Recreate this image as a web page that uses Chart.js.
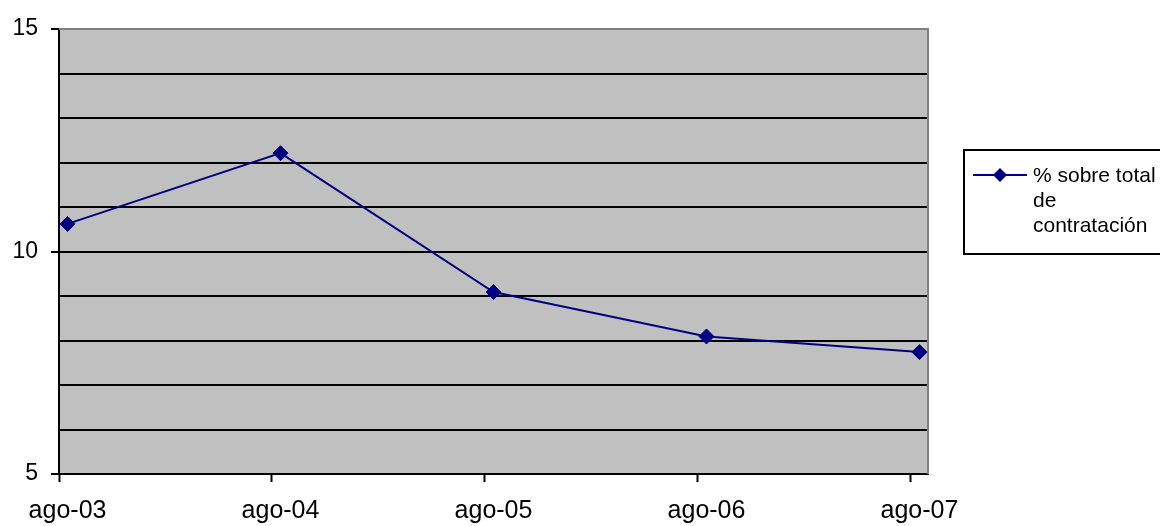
<!DOCTYPE html>
<html>
<head>
<meta charset="utf-8">
<script src="https://cdn.jsdelivr.net/npm/chart.js@4/dist/chart.umd.min.js"></script>
<style>
  html, body { margin: 0; padding: 0; background: #fff; }
  #wrap { width: 1160px; height: 526px; position: relative; }
</style>
</head>
<body>
<div id="wrap"><canvas id="myChart"></canvas></div>
<script>
'use strict';

const categories = ['ago-03', 'ago-04', 'ago-05', 'ago-06', 'ago-07'];
const percentValues = [10.62, 12.21, 9.09, 8.09, 7.74];
const seriesLabel = ['% sobre total', 'de', 'contratación'];
const yTickLabels = [5, 10, 15];

const ctx = document.getElementById('myChart');

const plotBackground = {
  id: 'plotBackground',
  beforeDraw(chart) {
    const a = chart.chartArea;
    const c = chart.ctx;
    c.save();
    c.fillStyle = '#c0c0c0';
    c.fillRect(a.left, a.top, a.right - a.left, a.bottom - a.top);
    c.restore();
  },
  afterDatasetsDraw(chart) {
    // gray frame on top and right, like the old spreadsheet plot area
    const a = chart.chartArea;
    const c = chart.ctx;
    c.save();
    c.strokeStyle = '#808080';
    c.lineWidth = 2;
    c.beginPath();
    c.moveTo(a.left, a.top);
    c.lineTo(a.right, a.top);
    c.lineTo(a.right, a.bottom);
    c.stroke();
    c.restore();
  }
};

const boxLegend = {
  id: 'boxLegend',
  afterDraw(chart) {
    const c = chart.ctx;
    const ds = chart.data.datasets[0];
    c.save();
    c.strokeStyle = '#000';
    c.lineWidth = 2;
    c.strokeRect(964, 150, 220, 104);
    c.strokeStyle = ds.borderColor;
    c.lineWidth = 2;
    c.beginPath();
    c.moveTo(973, 175);
    c.lineTo(1027, 175);
    c.stroke();
    c.fillStyle = ds.pointBackgroundColor;
    c.beginPath();
    c.moveTo(1000, 168);
    c.lineTo(1007, 175);
    c.lineTo(1000, 182);
    c.lineTo(993, 175);
    c.closePath();
    c.fill();
    c.fillStyle = '#000';
    c.font = '21px "Liberation Sans", Arial, sans-serif';
    c.textBaseline = 'middle';
    for (let i = 0; i < seriesLabel.length; i++) {
      c.fillText(seriesLabel[i], 1033, 176 + i * 25);
    }
    c.restore();
  }
};

function buildChart() {
  let chartObj = {
    type: 'line',
    data: {
      datasets: [{
        label: seriesLabel.join(' '),
        data: percentValues.map((v, i) => ({ x: i, y: v })),
        borderColor: '#000080',
        borderWidth: 2,
        pointStyle: 'rectRot',
        pointRadius: 7.5,
        pointBackgroundColor: '#000080',
        pointBorderColor: '#000080',
        pointBorderWidth: 1,
        tension: 0
      }]
    },
    options: {
      responsive: true,
      maintainAspectRatio: false,
      animation: false,
      layout: { padding: { left: 0, top: 29, right: 232, bottom: 0 } },
      plugins: { legend: { display: false }, tooltip: { enabled: false } },
      scales: {
        x: {
          type: 'linear',
          weight: 1,
          min: -0.04,
          max: 4.04,
          afterBuildTicks: scale => {
            scale.ticks = categories.map((c, i) => ({ value: i }));
          },
          afterFit: scale => { scale.height = 52; },
          grid: {
            drawOnChartArea: false,
            drawTicks: false
          },
          border: { color: '#000', width: 2 },
          ticks: {
            color: '#000',
            padding: 22,
            maxRotation: 0,
            autoSkip: false,
            font: { family: '"Liberation Sans", Arial, sans-serif', size: 25 },
            callback: value => categories[value]
          }
        },
        // tick marks only: they sit a little left of the category points, as in the original
        xMarks: {
          type: 'linear',
          position: 'bottom',
          weight: 0,
          min: 0,
          max: 4.08,
          afterBuildTicks: scale => {
            scale.ticks = categories.map((c, i) => ({ value: i }));
          },
          afterFit: scale => { scale.height = 0; },
          grid: {
            drawOnChartArea: false,
            drawTicks: true,
            tickLength: 8,
            tickColor: '#000',
            tickWidth: 2
          },
          border: { display: false },
          ticks: { display: false }
        },
        y: {
          min: 5,
          max: 15,
          afterFit: scale => { scale.width = 59; },
          grid: {
            color: ctx => ctx.tick && ctx.tick.value === 15 ? 'rgba(0,0,0,0)' : '#000',
            lineWidth: 2,
            tickLength: 8,
            tickColor: ctx => yTickLabels.includes(ctx.tick.value) ? '#000' : 'rgba(0,0,0,0)',
            tickWidth: 2
          },
          border: { color: '#000', width: 2 },
          ticks: {
            stepSize: 1,
            color: '#000',
            padding: 13,
            font: { family: '"Liberation Sans", Arial, sans-serif', size: 23 },
            callback: value => yTickLabels.includes(value) ? value : ''
          }
        }
      }
    },
    plugins: [plotBackground, boxLegend]
  };
  new Chart(ctx, chartObj);
}

buildChart();
</script>
</body>
</html>
